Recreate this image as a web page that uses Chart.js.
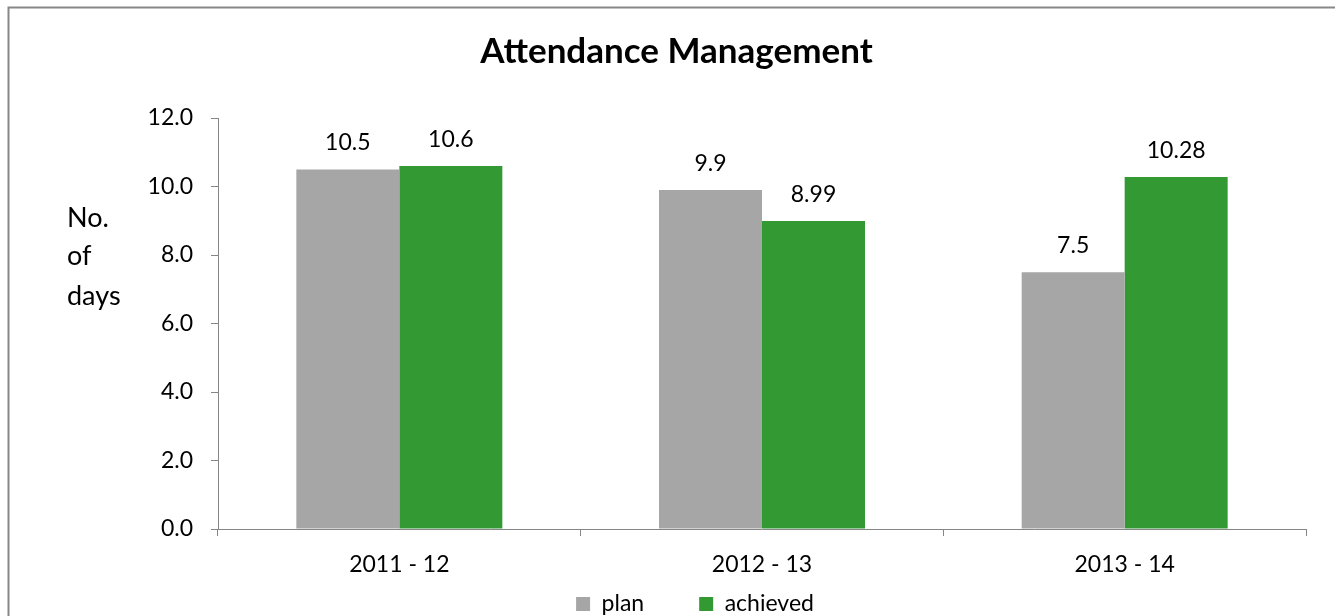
<!DOCTYPE html>
<html>
<head>
<meta charset="utf-8">
<script src="https://cdn.jsdelivr.net/npm/chart.js@4/dist/chart.umd.min.js"></script>
<style>
  html, body { margin: 0; padding: 0; background: #fff; }
  canvas { display: block; }
</style>
</head>
<body>
<canvas id="c" width="1335" height="616"></canvas>
<script>
const categories = ['2011 - 12', '2012 - 13', '2013 - 14'];
const planValues = [10.5, 9.9, 7.5];
const achievedValues = [10.6, 8.99, 10.28];
const seriesNames = ['plan', 'achieved'];
const chartTitle = 'Attendance Management';
const yTitleLines = ['No.', 'of', 'days'];
const yMin = 0, yMax = 12, yStep = 2;

const FONT = 'Lato';

const borderPlugin = {
  id: 'outerBorder',
  beforeDraw(chart) {
    const ctx = chart.ctx;
    ctx.save();
    ctx.fillStyle = '#fff';
    ctx.fillRect(0, 0, chart.width, chart.height);
    ctx.strokeStyle = '#878787';
    ctx.lineWidth = 2;
    ctx.strokeRect(8.5, 7.5, chart.width + 20, chart.height + 20);
    ctx.restore();
  }
};

const textPlugin = {
  id: 'texts',
  afterDraw(chart) {
    const ctx = chart.ctx;
    ctx.save();
    ctx.fillStyle = '#000';
    ctx.textBaseline = 'alphabetic';
    // title
    ctx.font = 'bold 35px ' + FONT;
    ctx.textAlign = 'center';
    ctx.fillText(chartTitle, 676.5, 63);
    // y title
    ctx.font = '27px ' + FONT;
    ctx.textAlign = 'left';
    const baselines = [227, 265, 305];
    yTitleLines.forEach((t, i) => ctx.fillText(t, 67, baselines[i]));
    ctx.restore();
  }
};

const valueLabelPlugin = {
  id: 'valueLabels',
  afterDatasetsDraw(chart) {
    const ctx = chart.ctx;
    ctx.save();
    ctx.font = '23px ' + FONT;
    ctx.fillStyle = '#000';
    ctx.textAlign = 'center';
    ctx.textBaseline = 'alphabetic';
    chart.data.datasets.forEach((ds, i) => {
      chart.getDatasetMeta(i).data.forEach((bar, j) => {
        ctx.fillText(String(ds.data[j]), bar.x, bar.y - 19);
      });
    });
    ctx.restore();
  }
};

const axisColor = '#868686';

new Chart(document.getElementById('c'), {
  type: 'bar',
  data: {
    labels: categories,
    datasets: [
      { label: seriesNames[0], data: planValues, backgroundColor: '#a6a6a6', borderWidth: 0,
        categoryPercentage: 0.568, barPercentage: 1.0 },
      { label: seriesNames[1], data: achievedValues, backgroundColor: '#339933', borderWidth: 0,
        categoryPercentage: 0.568, barPercentage: 1.0 }
    ]
  },
  options: {
    responsive: false,
    animation: false,
    layout: { padding: { top: 118, left: 84, right: 29, bottom: -9.5 } },
    plugins: {
      title: { display: false },
      tooltip: { enabled: false },
      legend: {
        position: 'bottom',
        labels: {
          boxWidth: 14, boxHeight: 14, padding: 55, color: '#000',
          font: { family: FONT, size: 23 }
        }
      }
    },
    scales: {
      x: {
        grid: { offset: true, drawOnChartArea: false, drawTicks: true, tickLength: 7, color: axisColor, lineWidth: 1 },
        border: { color: axisColor, width: 1 },
        ticks: { padding: 15, color: '#000', font: { family: FONT, size: 23 } },
        afterFit: s => {
          s.height = 8.5;
          // let the tick labels extend below the (thin) axis box
          s._computeLabelArea = () => undefined;
        }
      },
      y: {
        min: yMin, max: yMax,
        grid: { drawOnChartArea: false, drawTicks: true, tickLength: 7, color: axisColor, lineWidth: 1 },
        border: { color: axisColor, width: 1 },
        ticks: { stepSize: yStep, padding: 18, color: '#000', font: { family: FONT, size: 23 },
                 callback: v => Number(v).toFixed(1) },
        afterFit: s => { s.width = 134; }
      }
    }
  },
  plugins: [borderPlugin, textPlugin, valueLabelPlugin]
});
</script>
</body>
</html>
